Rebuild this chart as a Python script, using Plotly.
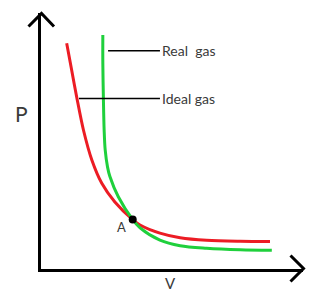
import plotly.graph_objects as go

# ---- data (V, P in arbitrary units) ----
ideal_V = [0.98, 1.17, 1.36, 1.62, 1.94, 2.32, 2.82, 3.50, 3.78, 4.54, 5.31, 6.32, 7.60, 8.74]
ideal_P = [8.82, 7.77, 6.73, 5.43, 4.26, 3.35, 2.62, 1.93, 1.72, 1.40, 1.22, 1.12, 1.08, 1.07]

real_V = [2.36, 2.36, 2.38, 2.41, 2.45, 2.54, 2.63, 2.95, 3.50, 3.78, 4.54, 5.31, 6.32, 7.60, 8.81]
real_P = [9.14, 8.05, 6.73, 5.43, 4.65, 3.98, 3.61, 2.82, 1.93, 1.61, 1.13, 0.91, 0.81, 0.75, 0.73]

point_A = (3.50, 1.93)

labels = ["Real\u00a0 gas", "Ideal gas"]
label_line_start_V = [2.56, 1.45]
label_line_end_V = [4.54, 4.54]
label_P = [8.53, 6.66]

RED = "#ec1c24"
GREEN = "#1fd03c"
TEXT = "#3a3a3a"
FONT = "Lato"

W, H = 325, 300
L, R, T, B = 41, 22, 13, 31
PW, PH = W - L - R, H - T - B


def px(xp):
    return (xp - L) / PW


def py(yp):
    return (H - B - yp) / PH


fig = go.Figure()
fig.add_trace(go.Scatter(x=ideal_V, y=ideal_P, mode="lines",
                         line=dict(color=RED, width=3, shape="spline", smoothing=0.9),
                         hoverinfo="skip"))
fig.add_trace(go.Scatter(x=real_V, y=real_P, mode="lines",
                         line=dict(color=GREEN, width=3, shape="spline", smoothing=0.9),
                         hoverinfo="skip"))
fig.add_trace(go.Scatter(x=[point_A[0]], y=[point_A[1]], mode="markers",
                         marker=dict(color="black", size=8), hoverinfo="skip"))

shapes = []
for x0, x1, y in zip(label_line_start_V, label_line_end_V, label_P):
    shapes.append(dict(type="line", xref="x", yref="y", x0=x0, x1=x1, y0=y, y1=y,
                       line=dict(color="black", width=1.5)))

# axis arrowheads (decoration)
shapes.append(dict(type="path", xref="paper", yref="paper",
                   path=f"M {px(28.5)},{py(26.5)} L {px(41.5)},{py(13.5)} L {px(54)},{py(26.5)}",
                   line=dict(color="black", width=3)))
shapes.append(dict(type="path", xref="paper", yref="paper",
                   path=f"M {px(290.5)},{py(255.5)} L {px(303.5)},{py(268.5)} L {px(290.5)},{py(281.5)}",
                   line=dict(color="black", width=3)))

annotations = []
for t, x1, y in zip(labels, label_line_end_V, label_P):
    annotations.append(dict(x=x1, y=y, xref="x", yref="y", text=t, showarrow=False,
                            xanchor="left", yanchor="middle", xshift=0,
                            font=dict(family=FONT, size=14, color=TEXT)))
annotations.append(dict(x=point_A[0], y=point_A[1], xref="x", yref="y", text="A",
                        showarrow=False, xanchor="center", yanchor="middle",
                        xshift=-11, yshift=-7, font=dict(family=FONT, size=13, color=TEXT)))
annotations.append(dict(x=px(21.7), y=py(113), xref="paper", yref="paper", text="P",
                        showarrow=False, xanchor="center", yanchor="middle",
                        font=dict(family=FONT, size=21, color=TEXT)))
annotations.append(dict(x=px(170), y=py(283), xref="paper", yref="paper", text="V",
                        showarrow=False, xanchor="center", yanchor="middle",
                        font=dict(family=FONT, size=15, color=TEXT)))

axis_common = dict(showgrid=False, zeroline=False, showticklabels=False, ticks="",
                   showline=True, linecolor="black", linewidth=3, fixedrange=True)

fig.update_layout(
    width=W, height=H,
    margin=dict(l=L, r=R, t=T, b=B, pad=0),
    paper_bgcolor="white", plot_bgcolor="white",
    showlegend=False,
    xaxis=dict(range=[0, 10], **axis_common),
    yaxis=dict(range=[0, 10], **axis_common),
    shapes=shapes,
    annotations=annotations,
)

fig.write_html("out.html", config={"displayModeBar": False})
